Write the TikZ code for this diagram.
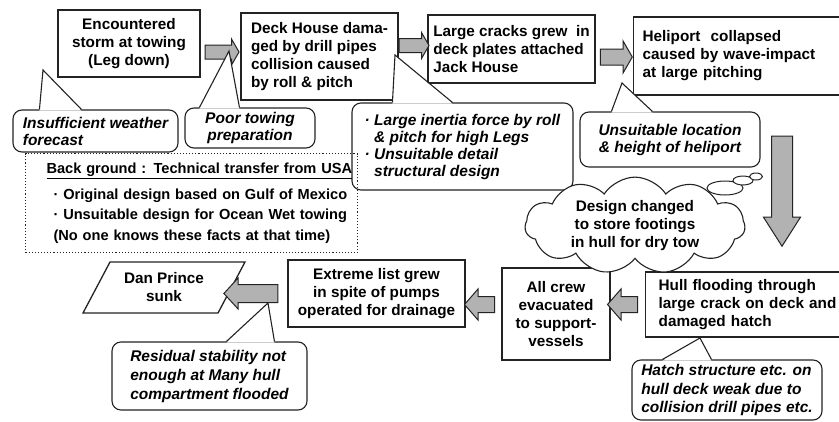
\documentclass[tikz,border=0pt]{standalone}
\usepackage{fontspec}
\setmainfont{Liberation Sans}
\usepackage{tikz}
\usetikzlibrary{shapes,arrows,calc}
\definecolor{dpgray}{RGB}{178,178,178}
\definecolor{dpline}{RGB}{35,35,35}
\tikzstyle{eventbox} = [draw=dpline, line width=1.3pt, fill=white, inner sep=0pt, align=center, font=\fontsize{15.3}{18}\selectfont\bfseries]
\tikzstyle{causebox} = [draw=dpline, line width=1.1pt, fill=white, rounded corners=9pt, inner sep=0pt, align=left, font=\fontsize{15.5}{17}\selectfont\bfseries\itshape]
\tikzstyle{flow} = [single arrow, draw=dpline, line width=1pt, fill=dpgray, inner sep=6.5pt, minimum width=0pt, single arrow head extend=6pt, single arrow tip angle=120]
\tikzstyle{ptr} = [draw=dpline, line width=1.1pt]
\tikzstyle{bubble} = [ellipse, draw=dpline, line width=1pt, fill=white, inner sep=0pt]

\newcommand{\calloutptr}[4]{%
  \fill[white] ($(#1.north west)+(#2,1.2)$) -- (#4) -- ($(#1.north west)+(#3,1.2)$) -- cycle;
  \draw[ptr] ($(#1.north west)+(#2,0)$) -- (#4) -- ($(#1.north west)+(#3,0)$);
}

\begin{document}
\begin{tikzpicture}[x=1pt,y=-1pt]
\useasboundingbox (0,0) rectangle (839,421);
\clip (0,0) rectangle (839,421);

% Upper chain of events
\node[eventbox, minimum width=142, minimum height=67] (storm) at (129,43.5) {Encountered\\storm at towing\\(Leg down)};
\node[eventbox, align=left, minimum width=157, minimum height=87] (deck) at (319.5,56.5) {Deck House dama-\\ged by drill pipes\\collision caused\\by roll \& pitch};
\node[eventbox, align=left, minimum width=167, minimum height=68] (crack) at (511.5,49) {Large cracks grew\ \ in\\deck plates attached\\Jack House};
\node[eventbox, align=left, anchor=west, text width=190, inner xsep=9, minimum height=78] (heli) at (633,56) {Heliport\ \ collapsed\\caused by wave-impact\\at large pitching};

\node[flow, minimum height=34] (a1) at (220,52) {};
\node[flow, minimum height=30] (a2) at (412,45.5) {};
\node[flow, minimum height=32, inner sep=7.5pt, single arrow head extend=8pt] (a3) at (614,57) {};
\node[flow, shape border rotate=270, minimum height=110, inner sep=10pt, single arrow head extend=8pt, single arrow tip angle=65] (a4) at (782,183) {};

% Lower chain of events
\node[eventbox, anchor=west, align=left, text width=185, inner xsep=13, minimum height=65] (flood) at (645,304.5) {Hull flooding through\\large crack on deck and\\damaged hatch};
\node[eventbox, minimum width=108, minimum height=92] (crew) at (556,314) {All crew\\evacuated\\to support-\\vessels};
\node[eventbox, minimum width=177, minimum height=67] (list) at (376.5,293.5) {Extreme list grew\\in spite of pumps\\operated for drainage};
\node[eventbox, draw=none, fill=none] (sunk) at (164,287.5) {Dan Prince\\sunk};
\draw[draw=dpline, line width=1.3pt] ($(sunk)+(-54,-25.5)$) -- ($(sunk)+(81,-25.5)$) -- ($(sunk)+(54,25.5)$) -- ($(sunk)+(-81,25.5)$) -- cycle;

\node[flow, shape border rotate=180, minimum height=30, inner sep=7.5pt, single arrow head extend=7.5pt, single arrow tip angle=98] (a5) at (626,304.5) {};
\node[flow, shape border rotate=180, minimum height=30, inner sep=7.5pt, single arrow head extend=7.5pt, single arrow tip angle=98] (a6) at (483,304.5) {};
\node[flow, shape border rotate=180, minimum height=54, inner sep=8.5pt, single arrow head extend=6.5pt, single arrow tip angle=95] (a7) at (255,293.5) {};

% Causes
\node[causebox, minimum width=165, minimum height=42] (wx) at (95.5,131) {Insufficient weather\\forecast};
\node[causebox, align=center, minimum width=130, minimum height=40] (prep) at (250,128) {Poor towing\\preparation};
\node[causebox, minimum width=221, minimum height=87] (inertia) at (462.5,146.5) {·\ Large inertia force by roll\\\hphantom{·\ }\& pitch for high Legs\\·\ Unsuitable detail\\\hphantom{·\ }structural design};
\node[causebox, align=center, minimum width=180, minimum height=55] (heliloc) at (670,139.5) {Unsuitable location\\\& height of heliport};
\node[causebox, font=\fontsize{15.5}{19}\selectfont\bfseries\itshape, minimum width=195, minimum height=68] (stab) at (209.5,376) {Residual stability not\\enough at Many hull\\compartment flooded};
\node[causebox, font=\fontsize{15.5}{18.5}\selectfont\bfseries\itshape, minimum width=190, minimum height=60] (hatch) at (727,390) {Hatch structure etc. on\\hull deck weak due to\\collision drill pipes etc.};

\coordinate (t1) at (43,70);
\coordinate (t2) at (229,51);
\coordinate (t3) at (395,55);
\coordinate (t4) at (622,83);
\coordinate (t5) at (268,303);
\coordinate (t6) at (700,338);
\calloutptr{wx}{27}{69}{t1}
\calloutptr{prep}{15}{55}{t2}
\calloutptr{inertia}{41}{101}{t3}
\calloutptr{heliloc}{32}{73}{t4}
\calloutptr{stab}{115}{163}{t5}
\calloutptr{hatch}{31}{80}{t6}

% Background
\node[draw=dpline, dotted, line width=1.1pt, anchor=north west, text width=330, inner xsep=1, minimum height=99, align=left, font=\fontsize{14.6}{20.5}\selectfont\bfseries] (bg) at (25,153) {\mbox{\hspace*{20pt}\underline{Back ground : Technical transfer from USA}}\\[5pt]\mbox{\hspace*{27pt}·\ Original design based on Gulf of Mexico}\\\mbox{\hspace*{27pt}·\ Unsuitable design for Ocean Wet towing}\\\mbox{\hspace*{27pt}(No one knows these facts at that time)}};

% Redesign
\node[cloud, draw=dpline, line width=1.1pt, fill=white, cloud puffs=11, cloud puff arc=115, aspect=2.6, minimum width=220, minimum height=85, inner sep=0pt, align=center, font=\fontsize{15.3}{18}\selectfont\bfseries] (redesign) at (635,225.5) {Design changed\\to store footings\\in hull for dry tow};
\node[bubble, minimum width=36, minimum height=14] (p1) at (725,188) {};
\node[bubble, minimum width=20, minimum height=9] (p2) at (743,180.5) {};
\node[bubble, minimum width=13, minimum height=7] (p3) at (756,176.5) {};
\end{tikzpicture}
\end{document}
